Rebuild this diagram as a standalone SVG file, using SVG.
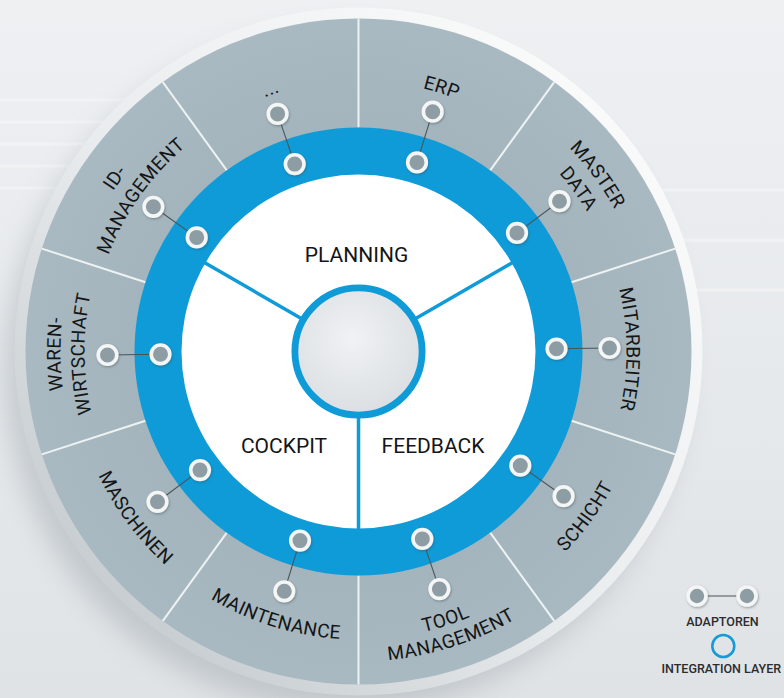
<svg xmlns="http://www.w3.org/2000/svg" width="784" height="698" viewBox="0 0 784 698">
  <defs>
    <linearGradient id="bg" x1="0" y1="0" x2="0" y2="1">
      <stop offset="0" stop-color="#eef0f2"/>
      <stop offset="0.5" stop-color="#e7eaed"/>
      <stop offset="1" stop-color="#e0e3e6"/>
    </linearGradient>
    <linearGradient id="rim" x1="0.1" y1="0.9" x2="0.9" y2="0.1">
      <stop offset="0" stop-color="#c3c9cd"/>
      <stop offset="0.45" stop-color="#e9ecee"/>
      <stop offset="1" stop-color="#fbfbfb"/>
    </linearGradient>
    <radialGradient id="hubfill" cx="0.45" cy="0.4" r="0.65">
      <stop offset="0" stop-color="#f0f2f4"/>
      <stop offset="1" stop-color="#d9dde1"/>
    </radialGradient>
    <radialGradient id="segfill" cx="0.5" cy="0.5" r="0.5">
      <stop offset="0.65" stop-color="#a3b4bc"/>
      <stop offset="1" stop-color="#a9b9c1"/>
    </radialGradient>
    <filter id="soft" x="-20%" y="-20%" width="140%" height="140%">
      <feGaussianBlur stdDeviation="14"/>
    </filter>
    <filter id="ds" x="-50%" y="-50%" width="200%" height="200%">
      <feDropShadow dx="0.8" dy="1.2" stdDeviation="0.9" flood-color="#3c4a52" flood-opacity="0.45"/>
    </filter>
    <path id="cw268" d="M358.5,619.5 A268,268 0 1 1 358.5,83.5 A268,268 0 1 1 358.5,619.5"/>
    <path id="cw271" d="M358.5,622.5 A271,271 0 1 1 358.5,80.5 A271,271 0 1 1 358.5,622.5"/>
    <path id="cw274" d="M358.5,625.5 A274,274 0 1 1 358.5,77.5 A274,274 0 1 1 358.5,625.5"/>
    <path id="cw293" d="M358.5,644.5 A293,293 0 1 1 358.5,58.5 A293,293 0 1 1 358.5,644.5"/>
    <path id="cw298" d="M358.5,649.5 A298,298 0 1 1 358.5,53.5 A298,298 0 1 1 358.5,649.5"/>
    <path id="ccw288" d="M358.5,63.5 A288,288 0 1 0 358.5,639.5 A288,288 0 1 0 358.5,63.5"/>
    <path id="ccw310" d="M358.5,41.5 A310,310 0 1 0 358.5,661.5 A310,310 0 1 0 358.5,41.5"/>
    <style>
      .lbl { font-family: Roboto, "Liberation Sans", sans-serif; font-size: 19px; fill: #141516; letter-spacing: 0.4px; }
      .main { font-family: Roboto, "Liberation Sans", sans-serif; font-size: 21px; fill: #141516; text-anchor: middle; }
      .leg { font-family: Roboto, "Liberation Sans", sans-serif; font-size: 12.5px; font-weight: 500; fill: #2b2c2d; }
      .ad { fill: #8e9ca4; stroke: #f4f5f5; stroke-width: 3.6; filter: url(#ds); }
      .con { stroke: #4b5358; stroke-width: 1.1; }
      .div { stroke: #eef2f3; stroke-width: 2; }
      .spoke { stroke: #0e9bd8; stroke-width: 3.5; }
    </style>
  </defs>

  <!-- background -->
  <rect x="0" y="0" width="784" height="698" fill="url(#bg)"/>
  <g opacity="0.5" stroke="#f7f8f9" stroke-width="3">
    <line x1="0" y1="100" x2="160" y2="100"/>
    <line x1="0" y1="122" x2="130" y2="122"/>
    <line x1="0" y1="144" x2="110" y2="144"/>
    <line x1="0" y1="166" x2="90" y2="166"/>
    <line x1="0" y1="188" x2="70" y2="188"/>
    <line x1="620" y1="190" x2="784" y2="190"/>
    <line x1="640" y1="240" x2="784" y2="240"/>
    <line x1="660" y1="290" x2="784" y2="290"/>
  </g>
  <circle cx="345" cy="372" r="340" fill="#9aa3a9" opacity="0.45" filter="url(#soft)"/>

  <!-- disk -->
  <g id="disk">
    <circle cx="358.5" cy="351.5" r="344" fill="url(#rim)"/>
    <circle cx="358.5" cy="351.5" r="333" fill="url(#segfill)"/>
    <g id="dividers">
      <line class="div" x1="358.5" y1="127.5" x2="358.5" y2="18.5"/>
      <line class="div" x1="490.2" y1="170.3" x2="554.2" y2="82.1"/>
      <line class="div" x1="571.5" y1="282.3" x2="675.2" y2="248.6"/>
      <line class="div" x1="571.5" y1="420.7" x2="675.2" y2="454.4"/>
      <line class="div" x1="490.2" y1="532.7" x2="554.2" y2="620.9"/>
      <line class="div" x1="358.5" y1="575.5" x2="358.5" y2="684.5"/>
      <line class="div" x1="226.8" y1="532.7" x2="162.8" y2="620.9"/>
      <line class="div" x1="145.5" y1="420.7" x2="41.8" y2="454.4"/>
      <line class="div" x1="145.5" y1="282.3" x2="41.8" y2="248.6"/>
      <line class="div" x1="226.8" y1="170.3" x2="162.8" y2="82.1"/>
    </g>
  </g>

  <!-- integration layer ring and core -->
  <g id="integration-layer">
    <circle cx="358.5" cy="351.5" r="224" fill="#0e9bd8"/>
    <circle cx="358.5" cy="351.5" r="177" fill="#ffffff"/>
    <line class="spoke" x1="301.3" y1="318.5" x2="203.5" y2="262"/>
    <line class="spoke" x1="415.7" y1="318.5" x2="513.5" y2="262"/>
    <line class="spoke" x1="358.5" y1="417.5" x2="358.5" y2="530"/>
    <circle id="hub" cx="358.5" cy="351.5" r="63.6" fill="url(#hubfill)" stroke="#0e9bd8" stroke-width="6.8"/>
  </g>

  <g id="node-planning"><text class="main" x="356.5" y="261.5">PLANNING</text></g>
  <g id="node-cockpit"><text class="main" x="284" y="452.5">COCKPIT</text></g>
  <g id="node-feedback"><text class="main" x="433" y="452.5">FEEDBACK</text></g>

  <!-- connectors (adapter links) -->
  <g id="connectors">
    <line class="con" x1="294.7" y1="164.1" x2="277.6" y2="113.9"/>
    <line class="con" x1="417.0" y1="162.4" x2="432.7" y2="111.7"/>
    <line class="con" x1="517.0" y1="232.9" x2="559.5" y2="201.2"/>
    <line class="con" x1="556.5" y1="348.7" x2="609.5" y2="348.0"/>
    <line class="con" x1="520.3" y1="465.6" x2="563.6" y2="496.2"/>
    <line class="con" x1="422.3" y1="538.9" x2="439.4" y2="589.1"/>
    <line class="con" x1="300.0" y1="540.6" x2="284.3" y2="591.3"/>
    <line class="con" x1="200.0" y1="470.1" x2="157.5" y2="501.8"/>
    <line class="con" x1="160.5" y1="354.3" x2="107.5" y2="355.0"/>
    <line class="con" x1="196.7" y1="237.4" x2="153.4" y2="206.8"/>
    <line class="con" x1="697" y1="596" x2="747" y2="596"/>
  </g>

  <!-- segment nodes -->
  <g id="node-more">
    <circle class="ad" cx="294.7" cy="164.1" r="9.3"/>
    <circle class="ad" cx="277.6" cy="113.9" r="9.3"/>
    <text class="lbl" text-anchor="middle"><textPath href="#cw271" startOffset="44.86%">...</textPath></text>
  </g>
  <g id="node-erp">
    <circle class="ad" cx="417.0" cy="162.4" r="9.3"/>
    <circle class="ad" cx="432.7" cy="111.7" r="9.3"/>
    <text class="lbl" text-anchor="middle"><textPath href="#cw271" startOffset="54.86%">ERP</textPath></text>
  </g>
  <g id="node-master-data">
    <circle class="ad" cx="517.0" cy="232.9" r="9.3"/>
    <circle class="ad" cx="559.5" cy="201.2" r="9.3"/>
    <text class="lbl" text-anchor="middle"><textPath href="#cw293" startOffset="64.86%">MASTER</textPath></text>
    <text class="lbl" text-anchor="middle"><textPath href="#cw268" startOffset="64.86%">DATA</textPath></text>
  </g>
  <g id="node-mitarbeiter">
    <circle class="ad" cx="556.5" cy="348.7" r="9.3"/>
    <circle class="ad" cx="609.5" cy="348.0" r="9.3"/>
    <text class="lbl" text-anchor="middle"><textPath href="#cw268" startOffset="74.86%">MITARBEITER</textPath></text>
  </g>
  <g id="node-schicht">
    <circle class="ad" cx="520.3" cy="465.6" r="9.3"/>
    <circle class="ad" cx="563.6" cy="496.2" r="9.3"/>
    <text class="lbl" text-anchor="middle"><textPath href="#ccw288" startOffset="65%">SCHICHT</textPath></text>
  </g>
  <g id="node-tool-management">
    <circle class="ad" cx="422.3" cy="538.9" r="9.3"/>
    <circle class="ad" cx="439.4" cy="589.1" r="9.3"/>
    <text class="lbl" text-anchor="middle"><textPath href="#ccw288" startOffset="55%">TOOL</textPath></text>
    <text class="lbl" text-anchor="middle"><textPath href="#ccw310" startOffset="55%">MANAGEMENT</textPath></text>
  </g>
  <g id="node-maintenance">
    <circle class="ad" cx="300.0" cy="540.6" r="9.3"/>
    <circle class="ad" cx="284.3" cy="591.3" r="9.3"/>
    <text class="lbl" text-anchor="middle"><textPath href="#ccw288" startOffset="45.2%">MAINTENANCE</textPath></text>
  </g>
  <g id="node-maschinen">
    <circle class="ad" cx="200.0" cy="470.1" r="9.3"/>
    <circle class="ad" cx="157.5" cy="501.8" r="9.3"/>
    <text class="lbl" text-anchor="middle"><textPath href="#ccw288" startOffset="35.2%">MASCHINEN</textPath></text>
  </g>
  <g id="node-warenwirtschaft">
    <circle class="ad" cx="160.5" cy="354.3" r="9.3"/>
    <circle class="ad" cx="107.5" cy="355.0" r="9.3"/>
    <text class="lbl" text-anchor="middle"><textPath href="#cw298" startOffset="24.86%">WAREN-</textPath></text>
    <text class="lbl" text-anchor="middle"><textPath href="#cw274" startOffset="24.86%">WIRTSCHAFT</textPath></text>
  </g>
  <g id="node-id-management">
    <circle class="ad" cx="196.7" cy="237.4" r="9.3"/>
    <circle class="ad" cx="153.4" cy="206.8" r="9.3"/>
    <text class="lbl" text-anchor="middle"><textPath href="#cw293" startOffset="34.86%">ID-</textPath></text>
    <text class="lbl" text-anchor="middle"><textPath href="#cw268" startOffset="34.86%">MANAGEMENT</textPath></text>
  </g>

  <!-- legend -->
  <g id="legend-adaptoren">
    <circle class="ad" cx="697" cy="596" r="9"/>
    <circle class="ad" cx="747" cy="596" r="9"/>
    <text class="leg" x="722.5" y="625.5" text-anchor="middle">ADAPTOREN</text>
  </g>
  <g id="legend-integration">
    <circle cx="723.3" cy="646" r="11" fill="none" stroke="#159bd8" stroke-width="2.6"/>
    <text class="leg" x="661.5" y="673.3">INTEGRATION LAYER</text>
  </g>
</svg>
